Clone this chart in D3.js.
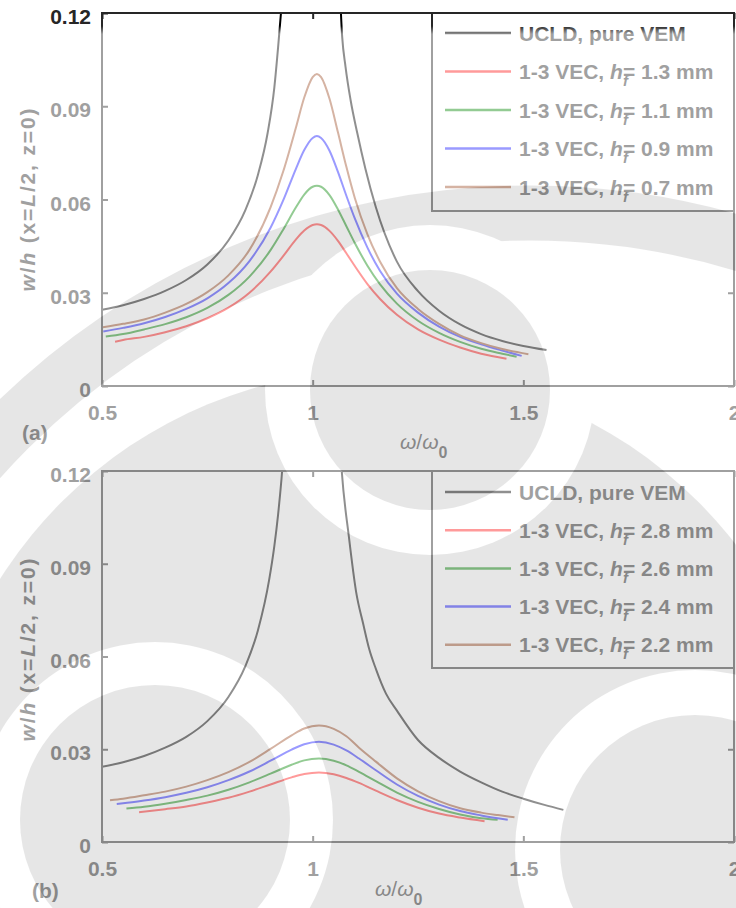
<!DOCTYPE html>
<html>
<head>
<meta charset="utf-8">
<script src="https://cdn.jsdelivr.net/npm/d3@7"></script>
<style>
  html, body { margin: 0; padding: 0; background: #fff; }
  svg { display: block; font-family: "Liberation Sans", Arial, sans-serif; font-weight: bold; }
</style>
</head>
<body>
<svg id="fig" width="736" height="908"></svg>
<script>
// ---- axis ticks ----
const xTicks = [0.5, 1, 1.5, 2];
const xTickLabels = ["0.5", "1", "1.5", "2"];
const yTicks = [0, 0.03, 0.06, 0.09, 0.12];
const yTickLabels = ["0", "0.03", "0.06", "0.09", "0.12"];

// ---- panel (a): [omega/omega0, w/h] ----
const ucldA = [[0.5,0.0245],[0.55,0.0260],[0.6,0.0280],[0.65,0.0306],[0.7,0.0341],[0.75,0.0391],[0.8,0.0468],[0.84,0.0565],[0.87,0.0679],[0.893,0.0813],[0.909,0.0960],[0.918,0.1090],[0.926,0.1220],[0.94,0.150],[0.96,0.20],[0.98,0.26],[0.995,0.29],[1.01,0.27],[1.03,0.21],[1.05,0.16],[1.062,0.135],[1.070,0.1124],[1.078,0.1027],[1.09,0.0920],[1.106,0.0813],[1.125,0.0700],[1.15,0.0575],[1.2,0.0400],[1.25,0.0305],[1.3,0.0242],[1.35,0.0198],[1.4,0.0167],[1.45,0.0145],[1.5,0.0129],[1.555,0.0116]];
const vecA13 = [[0.531,0.01425],[0.55,0.0148],[0.6,0.0158],[0.65,0.0173],[0.7,0.0192],[0.75,0.0218],[0.8,0.0252],[0.85,0.0300],[0.9,0.0368],[0.93,0.0418],[0.96,0.0471],[0.98,0.0500],[1.0,0.0518],[1.01,0.0520],[1.02,0.0518],[1.04,0.0499],[1.06,0.0467],[1.08,0.0427],[1.1,0.0386],[1.13,0.0328],[1.16,0.0280],[1.2,0.0229],[1.25,0.0182],[1.3,0.0149],[1.35,0.0124],[1.4,0.0104],[1.46,0.0088]];
const vecA11 = [[0.509,0.0159],[0.55,0.0167],[0.6,0.0182],[0.65,0.0199],[0.7,0.0221],[0.75,0.0251],[0.8,0.0293],[0.85,0.0352],[0.9,0.0437],[0.93,0.0503],[0.96,0.0574],[0.98,0.0616],[1.0,0.0641],[1.01,0.0644],[1.02,0.0641],[1.04,0.0614],[1.06,0.0568],[1.08,0.0514],[1.1,0.0460],[1.13,0.0387],[1.16,0.0327],[1.2,0.0265],[1.25,0.0210],[1.3,0.0171],[1.35,0.0142],[1.4,0.0120],[1.45,0.0104],[1.484,0.0094]];
const vecA09 = [[0.503,0.0175],[0.55,0.0187],[0.6,0.0202],[0.65,0.0222],[0.7,0.0248],[0.75,0.0282],[0.8,0.0331],[0.85,0.0402],[0.9,0.0509],[0.93,0.0597],[0.96,0.0698],[0.98,0.0759],[1.0,0.0798],[1.01,0.0804],[1.02,0.0798],[1.04,0.0757],[1.06,0.0689],[1.08,0.0612],[1.1,0.0539],[1.13,0.0445],[1.16,0.0370],[1.2,0.0297],[1.25,0.0236],[1.3,0.0191],[1.35,0.0158],[1.4,0.0134],[1.45,0.0114],[1.496,0.0097]];
const vecA07 = [[0.502,0.0189],[0.55,0.0200],[0.6,0.0214],[0.65,0.0236],[0.7,0.0264],[0.75,0.0302],[0.8,0.0356],[0.85,0.0438],[0.9,0.0575],[0.93,0.0690],[0.96,0.0830],[0.98,0.0928],[1.0,0.0994],[1.01,0.1004],[1.02,0.0994],[1.04,0.0924],[1.06,0.0816],[1.08,0.0705],[1.1,0.0605],[1.13,0.0488],[1.16,0.0400],[1.2,0.0315],[1.25,0.0248],[1.3,0.0200],[1.35,0.0163],[1.4,0.0138],[1.45,0.0119],[1.512,0.0102]];
const thicknessA = ["1.3", "1.1", "0.9", "0.7"];

// ---- panel (b) ----
const ucldB = [[0.5,0.0243],[0.55,0.0258],[0.6,0.0278],[0.65,0.0305],[0.7,0.0340],[0.75,0.0391],[0.8,0.0469],[0.84,0.0568],[0.87,0.0684],[0.897,0.0850],[0.909,0.0957],[0.918,0.1060],[0.926,0.1174],[0.935,0.1337],[0.95,0.165],[0.97,0.22],[0.995,0.29],[1.01,0.27],[1.03,0.21],[1.05,0.16],[1.062,0.135],[1.069,0.1200],[1.086,0.0987],[1.103,0.0810],[1.12,0.0705],[1.134,0.0625],[1.15,0.0560],[1.174,0.0480],[1.2,0.0425],[1.25,0.0330],[1.3,0.0272],[1.35,0.0228],[1.4,0.0193],[1.45,0.0163],[1.5,0.0140],[1.55,0.0120],[1.595,0.0104]];
const vecB28 = [[0.588,0.0096],[0.65,0.0106],[0.7,0.0115],[0.75,0.0128],[0.8,0.0143],[0.85,0.0163],[0.9,0.0186],[0.95,0.0209],[0.98,0.0220],[1.015,0.0225],[1.05,0.0219],[1.08,0.0207],[1.11,0.0191],[1.15,0.0166],[1.2,0.0136],[1.25,0.0111],[1.3,0.0092],[1.35,0.0079],[1.408,0.0067]];
const vecB26 = [[0.558,0.0108],[0.6,0.0114],[0.65,0.0124],[0.7,0.0136],[0.75,0.0150],[0.8,0.0169],[0.85,0.0193],[0.9,0.0221],[0.95,0.0250],[0.98,0.0264],[1.015,0.0270],[1.05,0.0263],[1.08,0.0248],[1.11,0.0227],[1.15,0.0197],[1.2,0.0160],[1.25,0.0130],[1.3,0.0107],[1.35,0.0089],[1.4,0.0077],[1.439,0.0072]];
const vecB24 = [[0.535,0.0123],[0.55,0.0125],[0.6,0.0134],[0.65,0.0145],[0.7,0.0159],[0.75,0.0177],[0.8,0.0200],[0.85,0.0228],[0.9,0.0263],[0.95,0.0299],[0.98,0.0316],[1.015,0.0324],[1.05,0.0315],[1.08,0.0296],[1.11,0.0270],[1.15,0.0232],[1.2,0.0186],[1.25,0.0149],[1.3,0.0121],[1.35,0.0100],[1.4,0.0086],[1.463,0.0072]];
const vecB22 = [[0.519,0.0135],[0.55,0.0140],[0.6,0.0151],[0.65,0.0163],[0.7,0.0179],[0.75,0.0200],[0.8,0.0226],[0.85,0.0259],[0.9,0.0301],[0.95,0.0345],[0.98,0.0367],[1.015,0.0377],[1.05,0.0366],[1.08,0.0342],[1.11,0.0305],[1.15,0.0260],[1.2,0.0206],[1.25,0.0164],[1.3,0.0132],[1.35,0.0109],[1.4,0.0095],[1.44,0.0087],[1.479,0.0080]];
const thicknessB = ["2.8", "2.6", "2.4", "2.2"];

// line colours: pure VEM, then the four 1-3 VEC thicknesses
const seriesColors = ["#000000", "#ff1a1a", "#0a8a0a", "#1a1aff", "#a0522d"];

const svg = d3.select("#fig");
const FONT = 21;

function drawPanel(cfg) {
  const g = svg.append("g");
  const x = d3.scaleLinear().domain([0.5, 2]).range([102, 734]);
  const y = d3.scaleLinear().domain([0, 0.12]).range([cfg.bottom, cfg.top]);
  const ink = "#262626";

  const clipId = "clip-" + cfg.id;
  svg.append("defs").append("clipPath").attr("id", clipId)
    .append("rect").attr("x", 102).attr("y", cfg.top)
    .attr("width", 632).attr("height", cfg.bottom - cfg.top);

  // axes with inward ticks
  const axL = d3.axisLeft(y).tickValues(yTicks).tickSizeInner(-6).tickSizeOuter(0)
    .tickPadding(11).tickFormat((d, i) => yTickLabels[i]);
  const axR = d3.axisRight(y).tickValues(yTicks).tickSizeInner(-6).tickSizeOuter(0).tickFormat("");
  const axB = d3.axisBottom(x).tickValues(xTicks).tickSizeInner(-6).tickSizeOuter(0)
    .tickPadding(19).tickFormat((d, i) => xTickLabels[i]);
  const axT = d3.axisTop(x).tickValues(xTicks).tickSizeInner(-6).tickSizeOuter(0).tickFormat("");

  const put = (ax, tr) => {
    const a = g.append("g").attr("transform", tr).call(ax);
    a.select(".domain").remove();
    a.selectAll("line").attr("stroke", ink).attr("stroke-width", 2);
    a.selectAll("text").attr("fill", ink).attr("font-size", FONT)
      .attr("font-family", '"Liberation Sans", Arial, sans-serif').attr("font-weight", "bold");
    return a;
  };
  put(axL, "translate(102,0)").selectAll("text").attr("dy", "0.5em");
  put(axR, "translate(734,0)");
  put(axB, `translate(0,${cfg.bottom})`);
  put(axT, `translate(0,${cfg.top})`);

  // curves
  const line = d3.line().x(d => x(d[0])).y(d => y(d[1])).curve(d3.curveMonotoneX);
  const lg = g.append("g").attr("clip-path", `url(#${clipId})`);
  cfg.series.forEach((s, i) => {
    lg.append("path").datum(s).attr("d", line).attr("fill", "none")
      .attr("stroke", seriesColors[i]).attr("stroke-width", 2)
      .attr("stroke-linejoin", "round");
  });

  // frame
  g.append("rect").attr("x", 102).attr("y", cfg.top).attr("width", 632)
    .attr("height", cfg.bottom - cfg.top).attr("fill", "none")
    .attr("stroke", ink).attr("stroke-width", 2);

  // legend
  const leg = g.append("g");
  leg.append("rect").attr("x", 432).attr("y", cfg.top).attr("width", 302)
    .attr("height", cfg.legH).attr("fill", "#fff").attr("stroke", ink).attr("stroke-width", 2);
  const rows = ["UCLD, pure VEM"].concat(cfg.thick);
  rows.forEach((lab, i) => {
    const ry = cfg.top + cfg.legRow0 + i * cfg.legStep;
    leg.append("line").attr("x1", 445).attr("x2", 511).attr("y1", ry).attr("y2", ry)
      .attr("stroke", seriesColors[i]).attr("stroke-width", 2.5);
    const t = leg.append("text").attr("x", 519).attr("y", ry).attr("dy", "0.36em")
      .attr("font-size", FONT).attr("fill", ink);
    if (i === 0) {
      t.text(lab);
    } else {
      t.append("tspan").text("1-3 VEC, ");
      t.append("tspan").attr("font-style", "italic").text("h");
      t.append("tspan").attr("font-size", 15).attr("font-style", "italic").attr("dy", 7).text("f");
      t.append("tspan").attr("dy", -7).attr("dx", -5).text("= " + lab + " mm");
    }
  });

  // axis titles
  const yl = g.append("text")
    .attr("transform", `translate(${cfg.yLabX},${cfg.yLabY}) rotate(-90)`)
    .attr("text-anchor", "middle").attr("font-size", FONT).attr("fill", ink)
    .attr("textLength", 183).attr("lengthAdjust", "spacing");
  yl.append("tspan").attr("font-style", "italic").text("w");
  yl.append("tspan").text("/");
  yl.append("tspan").attr("font-style", "italic").text("h");
  yl.append("tspan").text(" (x=");
  yl.append("tspan").attr("font-style", "italic").text("L");
  yl.append("tspan").text("/2, z=0)");

  const xl = g.append("text").attr("x", cfg.xLabX).attr("y", cfg.xLabY)
    .attr("font-size", FONT).attr("fill", ink).attr("font-weight", "normal");
  xl.append("tspan").attr("font-style", "italic").text("ω");
  xl.append("tspan").text("/");
  xl.append("tspan").attr("font-style", "italic").text("ω");
  xl.append("tspan").attr("font-size", 16).attr("dy", 9).attr("font-weight", "bold").text("0");

  g.append("text").attr("x", cfg.tagX).attr("y", cfg.tagY).attr("font-size", FONT)
    .attr("fill", ink).text(cfg.tag);
}

drawPanel({
  id: "a", top: 13, bottom: 386, series: [ucldA, vecA13, vecA11, vecA09, vecA07],
  thick: thicknessA, legH: 198, legRow0: 20, legStep: 38.5,
  yLabX: 35, yLabY: 200, xLabX: 400, xLabY: 449, tag: "(a)", tagX: 22, tagY: 440
});
drawPanel({
  id: "b", top: 471, bottom: 842, series: [ucldB, vecB28, vecB26, vecB24, vecB22],
  thick: thicknessB, legH: 197, legRow0: 21, legStep: 38.2,
  yLabX: 35, yLabY: 650, xLabX: 375, xLabY: 896, tag: "(b)", tagX: 32, tagY: 898
});

// ---- translucent emblem laid over the figure ----
const defs = svg.append("defs");
const grad = defs.append("linearGradient").attr("id", "fadeIn")
  .attr("x1", 0).attr("y1", 0).attr("x2", 0).attr("y2", 1);
grad.append("stop").attr("offset", 0).attr("stop-color", "#fff").attr("stop-opacity", 0);
grad.append("stop").attr("offset", 1).attr("stop-color", "#fff").attr("stop-opacity", 1);
defs.append("clipPath").attr("id", "wmClip")
  .append("rect").attr("x", 0).attr("y", 34).attr("width", 736).attr("height", 874);

const wm = svg.append("g").attr("opacity", 0.56);
const shade = "#d4d4d4";
wm.append("rect").attr("x", 0).attr("y", 26).attr("width", 736).attr("height", 8).attr("fill", "url(#fadeIn)");
const wmc = wm.append("g").attr("clip-path", "url(#wmClip)");
wmc.append("rect").attr("x", 0).attr("y", 34).attr("width", 736).attr("height", 874).attr("fill", "#fff");
// outer arc band
wmc.append("circle").attr("cx", 530).attr("cy", 950).attr("r", 737).attr("fill", "none")
  .attr("stroke", shade).attr("stroke-width", 55);
// broad lower field
wmc.append("circle").attr("cx", 380).attr("cy", 820).attr("r", 450).attr("fill", shade);
// three discs, each with a clear ring round it
[[430, 390, 120, 165], [155, 820, 135, 178], [695, 850, 135, 180]].forEach(([cx, cy, r0, r1]) => {
  wmc.append("circle").attr("cx", cx).attr("cy", cy).attr("r", r1).attr("fill", "#fff");
  wmc.append("circle").attr("cx", cx).attr("cy", cy).attr("r", r0).attr("fill", shade);
});
</script>
</body>
</html>
